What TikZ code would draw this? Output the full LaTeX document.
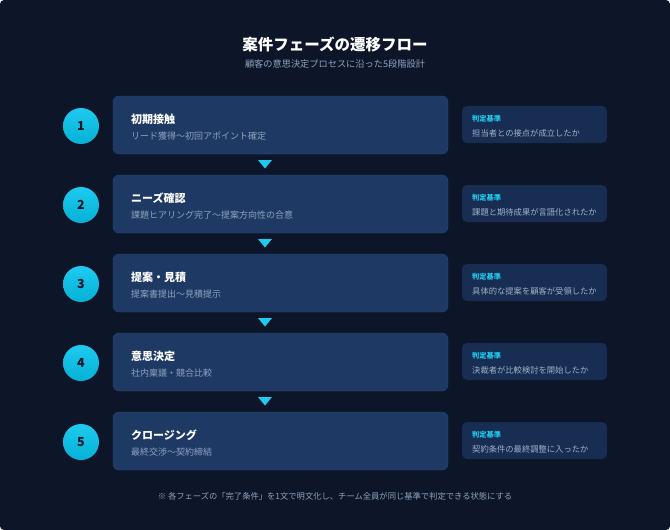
\documentclass[tikz,border=0pt]{standalone}
\usepackage{fontspec}
\setmainfont{Noto Sans CJK JP}
\definecolor{bgnavy}{HTML}{0C1628}
\definecolor{phasefill}{HTML}{1E3A64}
\definecolor{phaseline}{HTML}{274879}
\definecolor{critfill}{HTML}{182D52}
\definecolor{accent}{HTML}{1ECBEF}
\definecolor{accentdk}{HTML}{06B0D6}
\definecolor{mutetext}{HTML}{8FA3BF}
\tikzset{
  phase/.style={draw=phaseline,fill=phasefill,rounded corners=6pt,minimum width=335pt,minimum height=58pt},
  crit/.style={fill=critfill,rounded corners=5pt,minimum width=145pt,minimum height=37pt},
  num/.style={circle,top color=accent,bottom color=accentdk,minimum size=36pt,inner sep=0pt,
    text=bgnavy,font=\bfseries\fontsize{12.5}{12.5}\selectfont},
  ptitle/.style={anchor=west,inner sep=0pt,text=white,font=\bfseries\fontsize{11}{11}\selectfont},
  psub/.style={anchor=west,inner sep=0pt,text=mutetext,font=\fontsize{9}{9}\selectfont},
  clabel/.style={anchor=west,inner sep=0pt,text=accent,font=\bfseries\fontsize{7.2}{7.2}\selectfont},
  ctext/.style={anchor=west,inner sep=0pt,text=mutetext!85!white,font=\fontsize{8.3}{8.3}\selectfont},
  marker/.style={fill=accent}
}
\begin{document}
\begin{tikzpicture}[x=1pt,y=-1pt]
  \fill[bgnavy,rounded corners=4pt] (0,0) rectangle (670,530);
  \useasboundingbox (0,0) rectangle (670,530);

  % heading
  \node[inner sep=0pt,text=white,font=\bfseries\fontsize{15.5}{15.5}\selectfont] (title) at (335,44) {案件フェーズの遷移フロー};
  \node[inner sep=0pt,text=mutetext,font=\fontsize{9.2}{9.2}\selectfont] (subtitle) at (335,64) {顧客の意思決定プロセスに沿った5段階設計};

  % phases
  \node[phase] (p1) at (280.5,125) {};
  \node[phase] (p2) at (280.5,204) {};
  \node[phase] (p3) at (280.5,283) {};
  \node[phase] (p4) at (280.5,362) {};
  \node[phase] (p5) at (280.5,441) {};

  \node[num] (n1) at (81,126) {1};
  \node[num] (n2) at (81,205) {2};
  \node[num] (n3) at (81,284) {3};
  \node[num] (n4) at (81,363) {4};
  \node[num] (n5) at (81,442) {5};

  \node[ptitle] (t1) at (131,119) {初期接触};
  \node[psub]   (s1) at (131,136) {リード獲得〜初回アポイント確定};
  \node[ptitle] (t2) at (131,198) {ニーズ確認};
  \node[psub]   (s2) at (131,215) {課題ヒアリング完了〜提案方向性の合意};
  \node[ptitle] (t3) at (131,277) {提案・見積};
  \node[psub]   (s3) at (131,294) {提案書提出〜見積提示};
  \node[ptitle] (t4) at (131,356) {意思決定};
  \node[psub]   (s4) at (131,373) {社内稟議・競合比較};
  \node[ptitle] (t5) at (131,435) {クロージング};
  \node[psub]   (s5) at (131,452) {最終交渉〜契約締結};

  % flow markers
  \fill[marker] (258,160) -- (272,160) -- (265,168.5) -- cycle;
  \fill[marker] (258,239) -- (272,239) -- (265,247.5) -- cycle;
  \fill[marker] (258,318) -- (272,318) -- (265,326.5) -- cycle;
  \fill[marker] (258,397) -- (272,397) -- (265,405.5) -- cycle;

  % criteria
  \node[crit] (c1) at (534.5,124.5) {};
  \node[crit] (c2) at (534.5,203.5) {};
  \node[crit] (c3) at (534.5,282.5) {};
  \node[crit] (c4) at (534.5,361.5) {};
  \node[crit] (c5) at (534.5,440.5) {};

  \node[clabel] (l1) at (472,119) {判定基準};
  \node[ctext]  (x1) at (472,133) {担当者との接点が成立したか};
  \node[clabel] (l2) at (472,198) {判定基準};
  \node[ctext]  (x2) at (472,212) {課題と期待成果が言語化されたか};
  \node[clabel] (l3) at (472,277) {判定基準};
  \node[ctext]  (x3) at (472,291) {具体的な提案を顧客が受領したか};
  \node[clabel] (l4) at (472,356) {判定基準};
  \node[ctext]  (x4) at (472,370) {決裁者が比較検討を開始したか};
  \node[clabel] (l5) at (472,435) {判定基準};
  \node[ctext]  (x5) at (472,449) {契約条件の最終調整に入ったか};

  % note
  \node[inner sep=0pt,text=mutetext,font=\fontsize{8.3}{8.3}\selectfont] (note) at (335,496) {※ 各フェーズの「完了条件」を1文で明文化し、チーム全員が同じ基準で判定できる状態にする};
\end{tikzpicture}
\end{document}
